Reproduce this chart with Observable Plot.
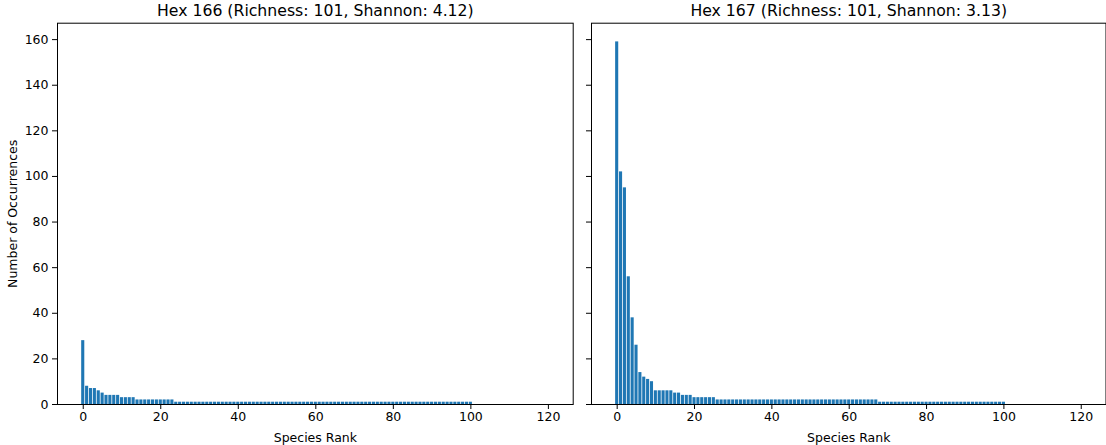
<!DOCTYPE html>
<html>
<head>
<meta charset="utf-8">
<script src="https://cdn.jsdelivr.net/npm/d3@7"></script>
<script src="https://cdn.jsdelivr.net/npm/@observablehq/plot@0.6"></script>
<style>
  html, body { margin: 0; padding: 0; background: #fff; }
  #chart { position: relative; width: 1106px; height: 445px; overflow: hidden; }
  #chart svg { position: absolute; top: 0; }
</style>
</head>
<body>
<div id="chart"></div>
<script>
// ---- data ----
const panelTitles = [
  "Hex 166 (Richness: 101, Shannon: 4.12)",
  "Hex 167 (Richness: 101, Shannon: 3.13)"
];
const hex166Counts = [
  28, 8, 7, 7, 6, 5, 4, 4, 4, 4,
  3, 3, 3, 3, 2, 2, 2, 2, 2, 2,
  2, 2, 2, 2, 1, 1, 1, 1, 1, 1,
  1, 1, 1, 1, 1, 1, 1, 1, 1, 1,
  1, 1, 1, 1, 1, 1, 1, 1, 1, 1,
  1, 1, 1, 1, 1, 1, 1, 1, 1, 1,
  1, 1, 1, 1, 1, 1, 1, 1, 1, 1,
  1, 1, 1, 1, 1, 1, 1, 1, 1, 1,
  1, 1, 1, 1, 1, 1, 1, 1, 1, 1,
  1, 1, 1, 1, 1, 1, 1, 1, 1, 1,
  1
];
const hex167Counts = [
  159, 102, 95, 56, 38, 26, 14, 12, 11, 10,
  6, 6, 6, 6, 6, 5, 5, 4, 4, 4,
  3, 3, 3, 3, 3, 3, 2, 2, 2, 2,
  2, 2, 2, 2, 2, 2, 2, 2, 2, 2,
  2, 2, 2, 2, 2, 2, 2, 2, 2, 2,
  2, 2, 2, 2, 2, 2, 2, 2, 2, 2,
  2, 2, 2, 2, 2, 2, 2, 2, 1, 1,
  1, 1, 1, 1, 1, 1, 1, 1, 1, 1,
  1, 1, 1, 1, 1, 1, 1, 1, 1, 1,
  1, 1, 1, 1, 1, 1, 1, 1, 1, 1,
  1
];
const xTicks = [0, 20, 40, 60, 80, 100, 120];
const yTicks = [0, 20, 40, 60, 80, 100, 120, 140, 160];
const xLabel = "Species Rank";
const yLabel = "Number of Occurrences";

// ---- drawing ----
const FONT = "'DejaVu Sans', sans-serif";
const BAR = "#1f77b4";
const xDomain = [-6.64, 126.4];
const yDomain = [0, 167.2];
const TICK_FS = 12.5;
const LABEL_FS = 12.5;
const TITLE_FS = 15.7;

function panel(counts, title, opts) {
  const data = counts.map((c, i) => ({rank: i, count: c}));
  const marks = [
    Plot.rectY(data, {
      x1: d => d.rank - 0.4,
      x2: d => d.rank + 0.4,
      y: "count",
      fill: BAR
    }),
    Plot.axisX({ticks: xTicks, tickSize: 5, tickPadding: 3, label: null, fontSize: TICK_FS, stroke: "#000", color: "#000"}),
    Plot.axisY({ticks: yTicks, tickSize: 5, tickPadding: 4, label: null, fontSize: TICK_FS,
      tickFormat: opts.showYLabels ? d => String(d) : () => ""}),
    Plot.frame({stroke: "#000", strokeWidth: 1}),
    Plot.text([title], {frameAnchor: "top", textAnchor: "middle", dy: -12, fontSize: TITLE_FS, lineAnchor: "middle", fill: "#000"}),
    Plot.text([xLabel], {frameAnchor: "bottom", textAnchor: "middle", dy: 33, fontSize: LABEL_FS, lineAnchor: "middle", fill: "#000"})
  ];
  if (opts.showYLabels) {
    marks.push(Plot.text([yLabel], {frameAnchor: "left", textAnchor: "middle", dx: -45, rotate: -90, fontSize: LABEL_FS, lineAnchor: "middle", fill: "#000"}));
  }
  const svg = Plot.plot({
    width: opts.width,
    height: 445,
    marginLeft: opts.marginLeft,
    marginRight: opts.marginRight,
    marginTop: 22.7,
    marginBottom: 41,
    style: {fontFamily: FONT, fontSize: TICK_FS + "px", color: "#000", background: "transparent", overflow: "visible"},
    x: {domain: xDomain, axis: null},
    y: {domain: yDomain, axis: null},
    marks
  });
  svg.style.left = opts.left + "px";
  return svg;
}

const chart = document.getElementById("chart");
chart.appendChild(panel(hex166Counts, panelTitles[0], {left: 0, width: 580, marginLeft: 57, marginRight: 7.3, showYLabels: true}));
chart.appendChild(panel(hex167Counts, panelTitles[1], {left: 580, width: 526, marginLeft: 11, marginRight: 0.5, showYLabels: false}));
</script>
</body>
</html>
